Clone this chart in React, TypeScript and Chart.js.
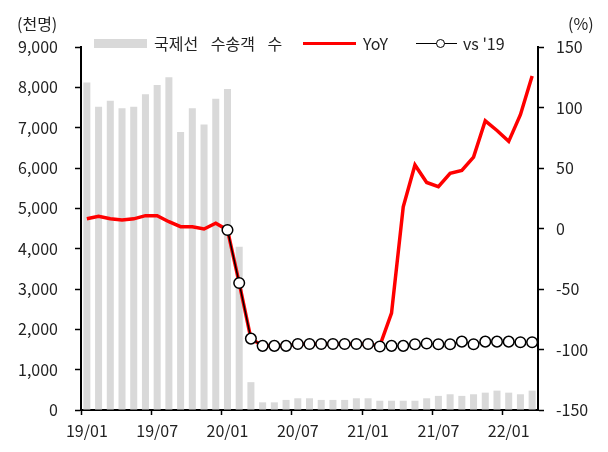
import React, { useEffect, useRef } from "react";
import { Chart, registerables } from "chart.js";

Chart.register(...registerables);

const months: string[] = [
  "19/01","19/02","19/03","19/04","19/05","19/06","19/07","19/08","19/09","19/10","19/11","19/12",
  "20/01","20/02","20/03","20/04","20/05","20/06","20/07","20/08","20/09","20/10","20/11","20/12",
  "21/01","21/02","21/03","21/04","21/05","21/06","21/07","21/08","21/09","21/10","21/11","21/12",
  "22/01","22/02","22/03",
];

// 국제선 수송객 수 (천명)
const passengers: number[] = [
  8120, 7520, 7670, 7480, 7520, 7830, 8060, 8250, 6890, 7480, 7080, 7720,
  7960, 4050, 690, 190, 190, 250, 290, 290, 250, 250, 250, 290,
  290, 230, 230, 230, 230, 290, 350, 390, 350, 390, 430, 480,
  430, 390, 480,
];

// YoY (%)
const yoy: number[] = [
  8, 10, 8, 7, 8, 10.6, 10.6, 5.6, 1.5, 1.5, -0.4, 4.3,
  -1.2, -45, -91, -97, -97, -97, -95.5, -95.5, -95.5, -95.5, -95.5, -95.5,
  -95.5, -97, -70, 18, 52.5, 38, 34.5, 45.6, 48, 59, 89, 81,
  72, 94, 126,
];

// vs '19 (%)
const vs19: (number | null)[] = [
  null, null, null, null, null, null, null, null, null, null, null, null,
  -1.2, -45, -91, -97, -97, -97, -95.5, -95.5, -95.5, -95.5, -95.5, -95.5,
  -95.5, -97.5, -97, -97, -95.7, -95, -95.7, -95.7, -93.5, -95.7, -93.5, -93.5,
  -93.5, -94, -94,
];

const leftTicks = { min: 0, max: 9000, step: 1000 };
const rightTicks = { min: -150, max: 150, step: 50 };

const FONT = '"Noto Sans CJK KR", "Noto Sans", sans-serif';
const TEXT = "#222";

export default function App() {
  const ref = useRef<HTMLCanvasElement | null>(null);

  useEffect(() => {
    if (!ref.current) return;
    const chart = new Chart(ref.current, {
      type: "bar",
      data: {
        labels: months,
        datasets: [
          {
            type: "line",
            label: "vs '19",
            data: vs19,
            yAxisID: "y1",
            borderColor: "#000",
            borderWidth: 1.5,
            pointRadius: 5.3,
            pointBackgroundColor: "#fff",
            pointBorderColor: "#000",
            pointBorderWidth: 1.5,
            tension: 0,
            order: 1,
          } as any,
          {
            type: "line",
            label: "YoY",
            data: yoy,
            yAxisID: "y1",
            borderColor: "#f00",
            borderWidth: 3.5,
            pointRadius: 0,
            tension: 0,
            order: 2,
          } as any,
          {
            type: "bar",
            label: "국제선 수송객 수",
            data: passengers,
            yAxisID: "y",
            backgroundColor: "#d9d9d9",
            barPercentage: 0.6,
            categoryPercentage: 1,
            order: 3,
          },
        ],
      },
      options: {
        animation: false,
        responsive: true,
        maintainAspectRatio: false,
        layout: { padding: { top: 47, left: 0, right: 0, bottom: 0 } },
        plugins: { legend: { display: false }, tooltip: { enabled: false } },
        scales: {
          x: {
            offset: true,
            grid: {
              offset: true,
              drawOnChartArea: false,
              drawTicks: true,
              tickLength: 5,
              tickWidth: 1.5,
              color: (ctx: any) => (ctx.index % 6 === 0 ? "#000" : "rgba(0,0,0,0)"),
            },
            border: { color: "#000", width: 2 },
            ticks: {
              autoSkip: false,
              maxRotation: 0,
              minRotation: 0,
              padding: 6,
              color: TEXT,
              font: { family: FONT, size: 16 },
              callback: (_v: any, i: number) => (i % 6 === 0 ? months[i] : ""),
            },
            afterFit: (s: any) => {
              s.height = 42;
            },
          },
          y: {
            position: "left",
            min: leftTicks.min,
            max: leftTicks.max,
            grid: {
              drawOnChartArea: false,
              tickLength: 6,
              tickWidth: 1.5,
              color: "#000",
            },
            border: { color: "#000", width: 2 },
            ticks: {
              stepSize: leftTicks.step,
              padding: 17,
              color: TEXT,
              font: { family: FONT, size: 16 },
              callback: (v: any) => Number(v).toLocaleString("en-US"),
            },
            afterFit: (s: any) => {
              s.width = 81;
            },
          },
          y1: {
            position: "right",
            min: rightTicks.min,
            max: rightTicks.max,
            grid: {
              drawOnChartArea: false,
              tickLength: 6,
              tickWidth: 1.5,
              color: "#000",
            },
            border: { color: "#000", width: 2 },
            ticks: {
              stepSize: rightTicks.step,
              padding: 12,
              color: TEXT,
              font: { family: FONT, size: 16 },
            },
            afterFit: (s: any) => {
              s.width = 70;
            },
          },
        },
      },
    });
    return () => chart.destroy();
  }, []);

  const txt: React.CSSProperties = {
    position: "absolute",
    fontFamily: FONT,
    fontSize: 16,
    color: TEXT,
    lineHeight: "16px",
    whiteSpace: "pre",
    transform: "translateY(-50%)",
  };

  return (
    <div style={{ position: "absolute", left: 0, top: 0, width: 608, height: 452, background: "#fff" }}>
      <canvas ref={ref} />
      <span style={{ ...txt, left: 17, top: 23 }}>(천명)</span>
      <span style={{ ...txt, left: 568, top: 23 }}>(%)</span>
      {/* legend */}
      <div style={{ position: "absolute", left: 94, top: 39, width: 53, height: 9, background: "#d9d9d9" }} />
      <span style={{ ...txt, left: 154, top: 43, wordSpacing: 9 }}>국제선 수송객 수</span>
      <div style={{ position: "absolute", left: 303, top: 41.5, width: 53, height: 3.5, background: "#f00" }} />
      <span style={{ ...txt, left: 363, top: 43 }}>YoY</span>
      <div style={{ position: "absolute", left: 416, top: 42.5, width: 41, height: 1.5, background: "#000" }} />
      <div
        style={{
          position: "absolute",
          left: 436,
          top: 38.5,
          width: 7,
          height: 7,
          borderRadius: "50%",
          border: "1.5px solid #000",
          background: "#fff",
        }}
      />
      <span style={{ ...txt, left: 463, top: 43 }}>vs '19</span>
    </div>
  );
}
